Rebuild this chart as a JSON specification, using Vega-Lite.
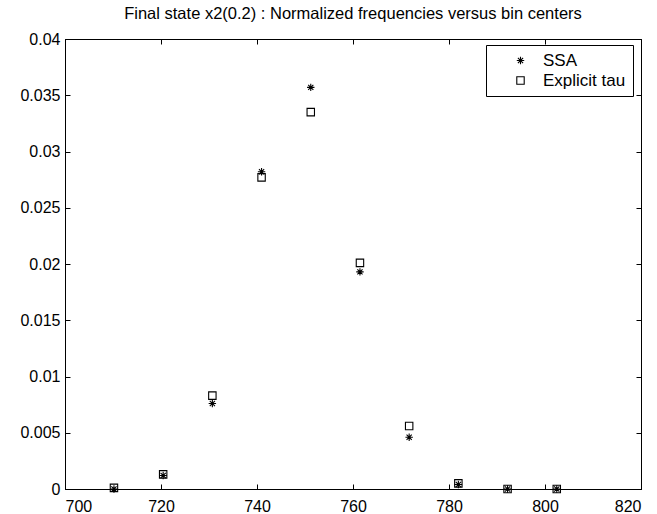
{
  "$schema": "https://vega.github.io/schema/vega-lite/v6.json",
  "width": 576,
  "height": 450,
  "autosize": {"type": "none"},
  "padding": {"left": 65, "top": 39, "right": 16, "bottom": 25},
  "background": "white",
  "title": {
    "text": "Final state x2(0.2) : Normalized frequencies versus bin centers",
    "font": "Liberation Sans",
    "fontSize": 16.5,
    "fontWeight": "normal",
    "color": "black",
    "anchor": "middle",
    "offset": 9
  },
  "config": {
    "view": {"stroke": "black", "strokeWidth": 1},
    "axis": {
      "grid": false,
      "domainColor": "black",
      "tickColor": "black",
      "labelColor": "black",
      "labelFont": "Liberation Sans",
      "labelFontSize": 16,
      "tickSize": -5,
      "title": null
    }
  },
  "data": {
    "values": [
      {"bin": 710.2, "series": "SSA", "freq": 0.0000},
      {"bin": 720.45, "series": "SSA", "freq": 0.0012},
      {"bin": 730.7, "series": "SSA", "freq": 0.0076},
      {"bin": 740.95, "series": "SSA", "freq": 0.0282},
      {"bin": 751.2, "series": "SSA", "freq": 0.0357},
      {"bin": 761.45, "series": "SSA", "freq": 0.0193},
      {"bin": 771.7, "series": "SSA", "freq": 0.0046},
      {"bin": 781.95, "series": "SSA", "freq": 0.0004},
      {"bin": 792.2, "series": "SSA", "freq": 0.0000},
      {"bin": 802.45, "series": "SSA", "freq": 0.0000},
      {"bin": 710.2, "series": "Explicit tau", "freq": 0.0001},
      {"bin": 720.45, "series": "Explicit tau", "freq": 0.0013},
      {"bin": 730.7, "series": "Explicit tau", "freq": 0.0083},
      {"bin": 740.95, "series": "Explicit tau", "freq": 0.0277},
      {"bin": 751.2, "series": "Explicit tau", "freq": 0.0335},
      {"bin": 761.45, "series": "Explicit tau", "freq": 0.0201},
      {"bin": 771.7, "series": "Explicit tau", "freq": 0.0056},
      {"bin": 781.95, "series": "Explicit tau", "freq": 0.0005},
      {"bin": 792.2, "series": "Explicit tau", "freq": 0.0000},
      {"bin": 802.45, "series": "Explicit tau", "freq": 0.0000}
    ]
  },
  "layer": [
    {
      "mark": {"type": "point", "filled": false, "color": "black", "strokeWidth": 1.1, "opacity": 1, "clip": false},
      "encoding": {
        "x": {
          "field": "bin", "type": "quantitative",
          "scale": {"domain": [700, 820], "nice": false, "zero": false},
          "axis": {"orient": "bottom", "values": [700, 720, 740, 760, 780, 800, 820], "labelPadding": 14, "format": "d"}
        },
        "y": {
          "field": "freq", "type": "quantitative",
          "scale": {"domain": [0, 0.04], "nice": false, "zero": false},
          "axis": {"orient": "left", "values": [0, 0.005, 0.01, 0.015, 0.02, 0.025, 0.03, 0.035, 0.04], "labelPadding": 10, "format": ".3~f"}
        },
        "shape": {
          "field": "series", "type": "nominal",
          "scale": {
            "domain": ["SSA", "Explicit tau"],
            "range": ["M0,-1L0,1M-1,0L1,0M-0.7,-0.7L0.7,0.7M-0.7,0.7L0.7,-0.7", "square"]
          },
          "legend": {
            "title": null,
            "orient": "none",
            "legendX": 421,
            "legendY": 6,
            "padding": 7,
            "strokeColor": "black",
            "fillColor": "white",
            "cornerRadius": 0,
            "symbolOffset": 19,
            "labelOffset": 14,
            "rowPadding": 2,
            "labelFont": "Liberation Sans",
            "labelFontSize": 17,
            "labelColor": "black",
            "symbolStrokeColor": "black",
            "symbolStrokeWidth": 1.1,
            "symbolSize": 55,
            "labelExpr": "datum.label + '\u00a0\u00a0\u00a0'"
          }
        },
        "size": {"value": 55}
      }
    },
    {
      "mark": {"type": "point", "opacity": 0, "clip": false},
      "encoding": {
        "x": {
          "field": "bin", "type": "quantitative",
          "scale": {"domain": [700, 820], "nice": false, "zero": false},
          "axis": {"orient": "top", "values": [700, 720, 740, 760, 780, 800, 820], "labels": false}
        },
        "y": {
          "field": "freq", "type": "quantitative",
          "scale": {"domain": [0, 0.04], "nice": false, "zero": false},
          "axis": {"orient": "right", "values": [0, 0.005, 0.01, 0.015, 0.02, 0.025, 0.03, 0.035, 0.04], "labels": false}
        }
      }
    }
  ],
  "resolve": {"axis": {"x": "independent", "y": "independent"}}
}
